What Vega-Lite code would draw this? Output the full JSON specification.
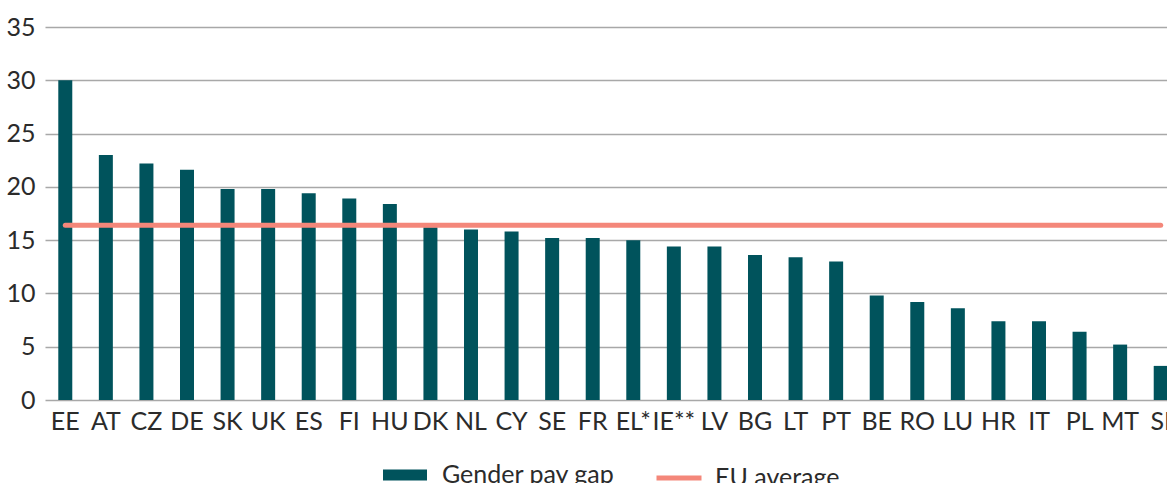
{
  "$schema": "https://vega.github.io/schema/vega-lite/v6.json",
  "autosize": "none",
  "width": 1122,
  "height": 373,
  "padding": {"left": 45, "top": 27, "right": 0, "bottom": 83},
  "background": "white",
  "config": {
    "view": {"stroke": null},
    "font": "Lato",
    "axis": {"labelFont": "Lato", "labelFontSize": 25, "labelColor": "#2b2b2b"},
    "legend": {"labelFont": "Lato", "labelFontSize": 25, "labelColor": "#2b2b2b", "labelLimit": 0}
  },
  "data": {
    "values": [
      {"country": "EE", "gap": 30.0, "eu": 16.4},
      {"country": "AT", "gap": 23.0, "eu": 16.4},
      {"country": "CZ", "gap": 22.2, "eu": 16.4},
      {"country": "DE", "gap": 21.6, "eu": 16.4},
      {"country": "SK", "gap": 19.8, "eu": 16.4},
      {"country": "UK", "gap": 19.8, "eu": 16.4},
      {"country": "ES", "gap": 19.4, "eu": 16.4},
      {"country": "FI", "gap": 18.9, "eu": 16.4},
      {"country": "HU", "gap": 18.4, "eu": 16.4},
      {"country": "DK", "gap": 16.2, "eu": 16.4},
      {"country": "NL", "gap": 16.0, "eu": 16.4},
      {"country": "CY", "gap": 15.8, "eu": 16.4},
      {"country": "SE", "gap": 15.2, "eu": 16.4},
      {"country": "FR", "gap": 15.2, "eu": 16.4},
      {"country": "EL*", "gap": 15.0, "eu": 16.4},
      {"country": "IE**", "gap": 14.4, "eu": 16.4},
      {"country": "LV", "gap": 14.4, "eu": 16.4},
      {"country": "BG", "gap": 13.6, "eu": 16.4},
      {"country": "LT", "gap": 13.4, "eu": 16.4},
      {"country": "PT", "gap": 13.0, "eu": 16.4},
      {"country": "BE", "gap": 9.8, "eu": 16.4},
      {"country": "RO", "gap": 9.2, "eu": 16.4},
      {"country": "LU", "gap": 8.6, "eu": 16.4},
      {"country": "HR", "gap": 7.4, "eu": 16.4},
      {"country": "IT", "gap": 7.4, "eu": 16.4},
      {"country": "PL", "gap": 6.4, "eu": 16.4},
      {"country": "MT", "gap": 5.2, "eu": 16.4},
      {"country": "SI", "gap": 3.2, "eu": 16.4}
    ]
  },
  "encoding": {
    "x": {
      "field": "country",
      "type": "nominal",
      "sort": null,
      "scale": {"range": [0, 1136], "paddingInner": 0.655, "paddingOuter": 0.3275},
      "axis": {"title": null, "labelAngle": 0, "domain": false, "ticks": false, "labelPadding": 9}
    }
  },
  "layer": [
    {
      "mark": {"type": "bar", "clip": false},
      "encoding": {
        "y": {
          "field": "gap",
          "type": "quantitative",
          "scale": {"domain": [0, 35], "nice": false},
          "axis": {
            "title": null,
            "values": [0, 5, 10, 15, 20, 25, 30, 35],
            "domain": false,
            "ticks": false,
            "labelPadding": 10,
            "grid": true,
            "gridColor": "#a8a8a8",
            "gridWidth": 1.5
          }
        },
        "fill": {
          "datum": "Gender pay gap",
          "scale": {"range": ["#00535c"]},
          "legend": {
            "title": null,
            "orient": "none",
            "legendX": 338,
            "legendY": 426,
            "padding": 0,
            "symbolType": "M-1,-0.25H1V0.25H-1Z",
            "symbolSize": 1936,
            "symbolStrokeWidth": 0,
            "labelOffset": 15
          }
        }
      }
    },
    {
      "mark": {"type": "line", "strokeWidth": 5, "strokeCap": "round"},
      "encoding": {
        "y": {"field": "eu", "type": "quantitative"},
        "stroke": {
          "datum": "EU average",
          "scale": {"range": ["#f4877a"]},
          "legend": {
            "title": null,
            "orient": "none",
            "legendX": 609,
            "legendY": 426,
            "padding": 0,
            "symbolType": "stroke",
            "symbolSize": 2025,
            "symbolStrokeWidth": 5,
            "labelOffset": 11
          }
        }
      }
    }
  ]
}
